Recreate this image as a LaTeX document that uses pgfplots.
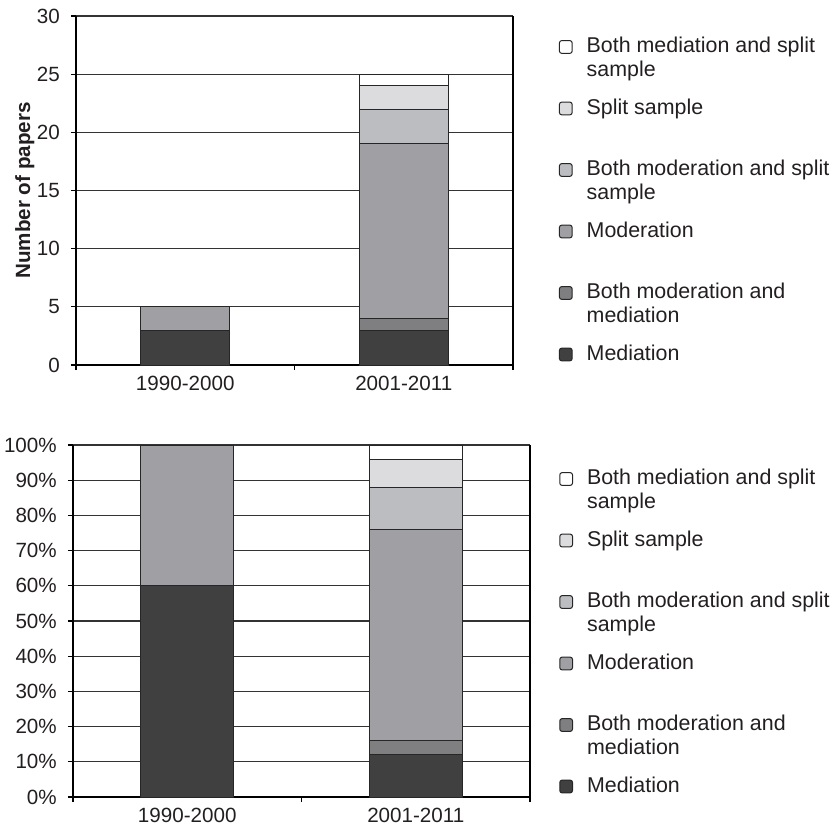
\documentclass[border=0pt]{standalone}
\usepackage{fontspec}
\setmainfont{Liberation Sans}
\usepackage{pgfplots}
\pgfplotsset{compat=1.18}

\definecolor{cMed}{HTML}{404040}
\definecolor{cModMed}{HTML}{7F7F81}
\definecolor{cMod}{HTML}{A0A0A4}
\definecolor{cModSplit}{HTML}{BCBDC0}
\definecolor{cSplit}{HTML}{DCDCDE}
\definecolor{cMedSplit}{HTML}{FFFFFF}
\definecolor{txt}{HTML}{231F20}

% legend text: zero-size box, first line level with the marker
\newcommand\lent[2]{\raisebox{-3.7pt}[0pt][0pt]{\begin{tabular}[t]{@{}l@{}}#1\\#2\end{tabular}}}
\newcommand\lone[1]{\raisebox{-3.7pt}[0pt][0pt]{#1}}

\pgfplotsset{
  excel/.style={
    scale only axis,
    font=\fontsize{10.3}{10.5}\selectfont,
    /pgf/number format/assume math mode=true,
    text=txt,
    ybar stacked,
    bar width=0.407,
    xmin=-0.5, xmax=1.5,
    axis x line*=bottom,
    axis y line*=box,
    axis line style={-, line width=1pt, black},
    xtick={-0.5,0.5,1.5},
    xticklabels={},
    extra x ticks={0,1},
    extra x tick labels={1990-2000,2001-2011},
    extra x tick style={major tick length=0pt, grid=none,
      xticklabel style={yshift=-2pt}},
    ytick pos=left,
    tick align=outside,
    major tick length=2.6pt,
    tick style={black, line width=0.6pt},
    ymajorgrids,
    grid style={black!80, line width=0.6pt},
    yticklabel style={xshift=-2pt},
    every axis plot/.append style={draw=black!85, line width=0.5pt},
    reverse legend,
    legend cell align=left,
    legend image code/.code={
      \draw[#1, rounded corners=1.2pt, draw=black!85, line width=0.5pt]
        (0pt,-3.2pt) rectangle (6.4pt,3.2pt);},
    legend style={draw=none, fill=none, inner sep=0pt, outer sep=0pt,
      column sep=7pt, row sep=23.85pt, text=txt,
      font=\fontsize{10.7}{12}\selectfont,
      nodes={inner sep=0pt, outer sep=0pt}},
  }
}

\begin{document}
\begin{tikzpicture}
\path[use as bounding box] (0pt,0pt) rectangle (417pt,-415pt);

% counts
\begin{axis}[excel,
  at={(38pt,-182.5pt)}, anchor=south west,
  width=218.5pt, height=174.5pt,
  ymin=0, ymax=30, ytick={0,5,...,30},
  ylabel={\textbf{Number of papers}},
  ylabel style={at={(axis description cs:-0.117,0.5)}, anchor=center},
  legend style={at={(axis description cs:1.105,0.931)}, anchor=north west},
]
\addplot[fill=cMed] coordinates {(0,3) (1,3)};
\addplot[fill=cModMed] coordinates {(0,0) (1,1)};
\addplot[fill=cMod] coordinates {(0,2) (1,15)};
\addplot[fill=cModSplit] coordinates {(0,0) (1,3)};
\addplot[fill=cSplit] coordinates {(0,0) (1,2)};
\addplot[fill=cMedSplit] coordinates {(0,0) (1,1)};
\addlegendentry{\lone{Mediation}}
\addlegendentry{\lent{Both moderation and}{mediation}}
\addlegendentry{\lone{Moderation}}
\addlegendentry{\lent{Both moderation and split}{sample}}
\addlegendentry{\lone{Split sample}}
\addlegendentry{\lent{Both mediation and split}{sample}}
\end{axis}

% shares
\begin{axis}[excel,
  at={(36.5pt,-398.5pt)}, anchor=south west,
  width=228.5pt, height=176pt,
  ymin=0, ymax=100, ytick={0,10,...,100},
  yticklabel={\pgfmathprintnumber{\tick}\%},
  legend style={at={(axis description cs:1.064,0.923)}, anchor=north west},
]
\addplot[fill=cMed] coordinates {(0,60) (1,12)};
\addplot[fill=cModMed] coordinates {(0,0) (1,4)};
\addplot[fill=cMod] coordinates {(0,40) (1,60)};
\addplot[fill=cModSplit] coordinates {(0,0) (1,12)};
\addplot[fill=cSplit] coordinates {(0,0) (1,8)};
\addplot[fill=cMedSplit] coordinates {(0,0) (1,4)};
\addlegendentry{\lone{Mediation}}
\addlegendentry{\lent{Both moderation and}{mediation}}
\addlegendentry{\lone{Moderation}}
\addlegendentry{\lent{Both moderation and split}{sample}}
\addlegendentry{\lone{Split sample}}
\addlegendentry{\lent{Both mediation and split}{sample}}
\end{axis}
\end{tikzpicture}
\end{document}
